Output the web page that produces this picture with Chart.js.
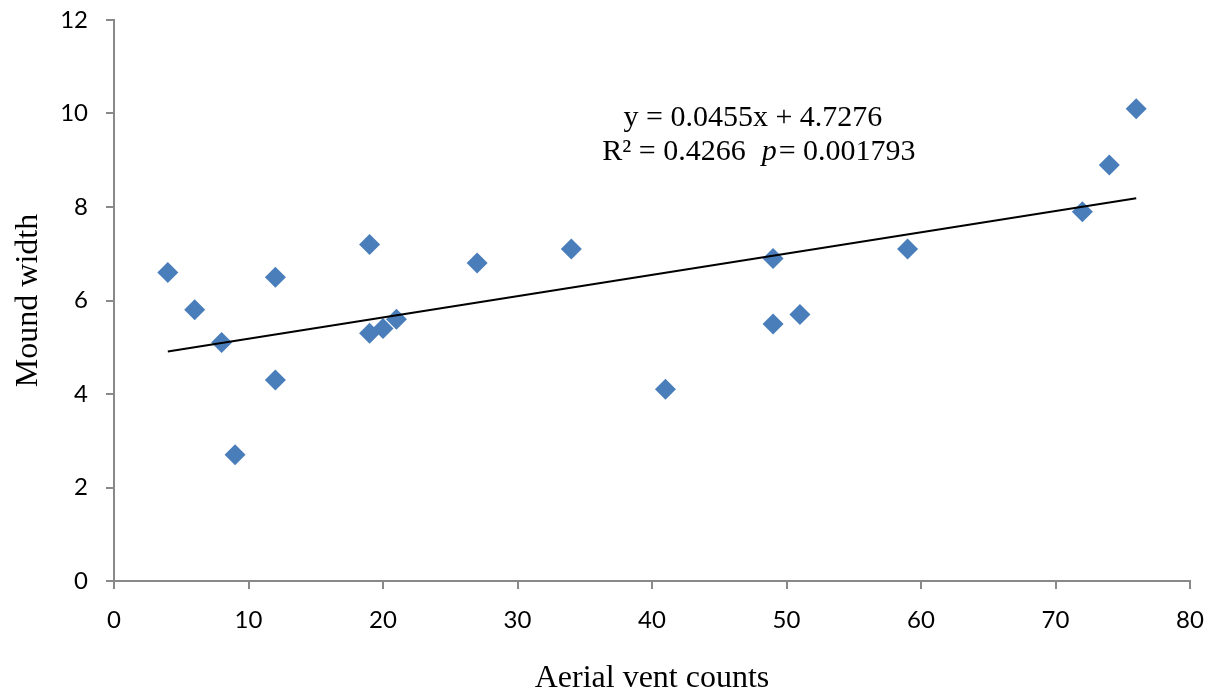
<!DOCTYPE html>
<html>
<head>
<meta charset="utf-8">
<script src="https://cdn.jsdelivr.net/npm/chart.js@4.4.1/dist/chart.umd.min.js"></script>
<style>
  html, body { margin: 0; padding: 0; background: #fff; }
  #wrap { width: 1220px; height: 698px; position: relative; }
</style>
</head>
<body>
<div id="wrap"><canvas id="chart"></canvas></div>
<script>
// Aerial vent counts (x) vs. mound width (y)
const ventCounts  = [4, 6, 8, 9, 12, 12, 19, 19, 20, 21, 27, 34, 41, 49, 49, 51, 59, 72, 74, 76];
const moundWidths = [6.6, 5.8, 5.1, 2.7, 6.5, 4.3, 7.2, 5.3, 5.4, 5.6, 6.8, 7.1, 4.1, 6.9, 5.5, 5.7, 7.1, 7.9, 8.9, 10.1];

// Linear fit reported for the data
const fitSlope = 0.0455;
const fitIntercept = 4.7276;
const fitLine1 = 'y = 0.0455x + 4.7276';
const fitR2 = 'R\u00B2 = 0.4266  ';
const fitP = 'p';
const fitPValue = '= 0.001793';

const xTicks = [0, 10, 20, 30, 40, 50, 60, 70, 80];
const yTicks = [0, 2, 4, 6, 8, 10, 12];

const points = ventCounts.map((v, i) => ({ x: v, y: moundWidths[i] }));
const xMinData = Math.min(...ventCounts);
const xMaxData = Math.max(...ventCounts);
const trend = [xMinData, xMaxData].map(x => ({ x, y: fitSlope * x + fitIntercept }));

const serif = '"Liberation Serif", "Times New Roman", serif';
const sans = 'Lato, "Open Sans", sans-serif';

// Draws the regression equation and statistics above the trend line
const equationLabel = {
  id: 'equationLabel',
  afterDatasetsDraw(chart) {
    const { ctx, scales: { x, y } } = chart;
    const cx = x.getPixelForValue(47.5);
    const y1 = y.getPixelForValue(9.91);
    const y2 = y.getPixelForValue(9.18);
    const normal = '30px ' + serif;
    const italic = 'italic 30px ' + serif;
    ctx.save();
    ctx.fillStyle = '#000';
    ctx.textBaseline = 'middle';
    ctx.textAlign = 'center';
    ctx.font = normal;
    ctx.fillText(fitLine1, cx, y1);

    const wA = ctx.measureText(fitR2).width + 1;
    const wC = ctx.measureText(fitPValue).width;
    ctx.font = italic;
    const wB = ctx.measureText(fitP).width + 2;
    let sx = cx + 6 - (wA + wB + wC) / 2;
    ctx.textAlign = 'left';
    ctx.font = normal;
    ctx.fillText(fitR2, sx, y2);
    sx += wA;
    ctx.font = italic;
    ctx.fillText(fitP, sx, y2);
    sx += wB;
    ctx.font = normal;
    ctx.fillText(fitPValue, sx, y2);
    ctx.restore();
  }
};

new Chart(document.getElementById('chart'), {
  type: 'scatter',
  data: {
    datasets: [
      {
        label: 'Mound width',
        data: points,
        pointStyle: 'rectRot',
        pointRadius: 10.5,
        pointHoverRadius: 10.5,
        backgroundColor: '#4a7ebb',
        borderColor: '#4a7ebb',
        borderWidth: 0,
        order: 2
      },
      {
        label: 'Linear fit',
        type: 'line',
        data: trend,
        borderColor: '#000',
        borderWidth: 2,
        pointRadius: 0,
        fill: false,
        order: 1
      }
    ]
  },
  options: {
    responsive: true,
    maintainAspectRatio: false,
    animation: false,
    layout: { padding: { top: 20, right: 30, left: 0, bottom: 0 } },
    plugins: { legend: { display: false }, tooltip: { enabled: false } },
    scales: {
      x: {
        type: 'linear',
        min: 0, max: 80,
        afterBuildTicks(scale) { scale.ticks = xTicks.map(v => ({ value: v })); },
        afterFit(scale) { scale.height = 117; scale.paddingLeft = 0; scale.paddingRight = 0; },
        grid: { drawOnChartArea: false, tickLength: 8, color: '#898989', lineWidth: 2 },
        border: { color: '#898989', width: 2 },
        ticks: { color: '#000', font: { family: sans, size: 24 }, padding: 17, maxRotation: 0 },
        title: { display: true, text: 'Aerial vent counts', color: '#000', font: { family: serif, size: 32 }, padding: { top: 0, bottom: 0 } }
      },
      y: {
        type: 'linear',
        min: 0, max: 12,
        afterBuildTicks(scale) { scale.ticks = yTicks.map(v => ({ value: v })); },
        afterFit(scale) { scale.width = 114; scale.paddingTop = 0; scale.paddingBottom = 0; },
        grid: { drawOnChartArea: false, tickLength: 8, color: '#898989', lineWidth: 2 },
        border: { color: '#898989', width: 2 },
        ticks: { color: '#000', font: { family: sans, size: 24 }, padding: 18 },
        title: { display: true, text: 'Mound width', color: '#000', font: { family: serif, size: 32 }, padding: { top: 9, bottom: 0 } }
      }
    }
  },
  plugins: [equationLabel]
});
</script>
</body>
</html>
